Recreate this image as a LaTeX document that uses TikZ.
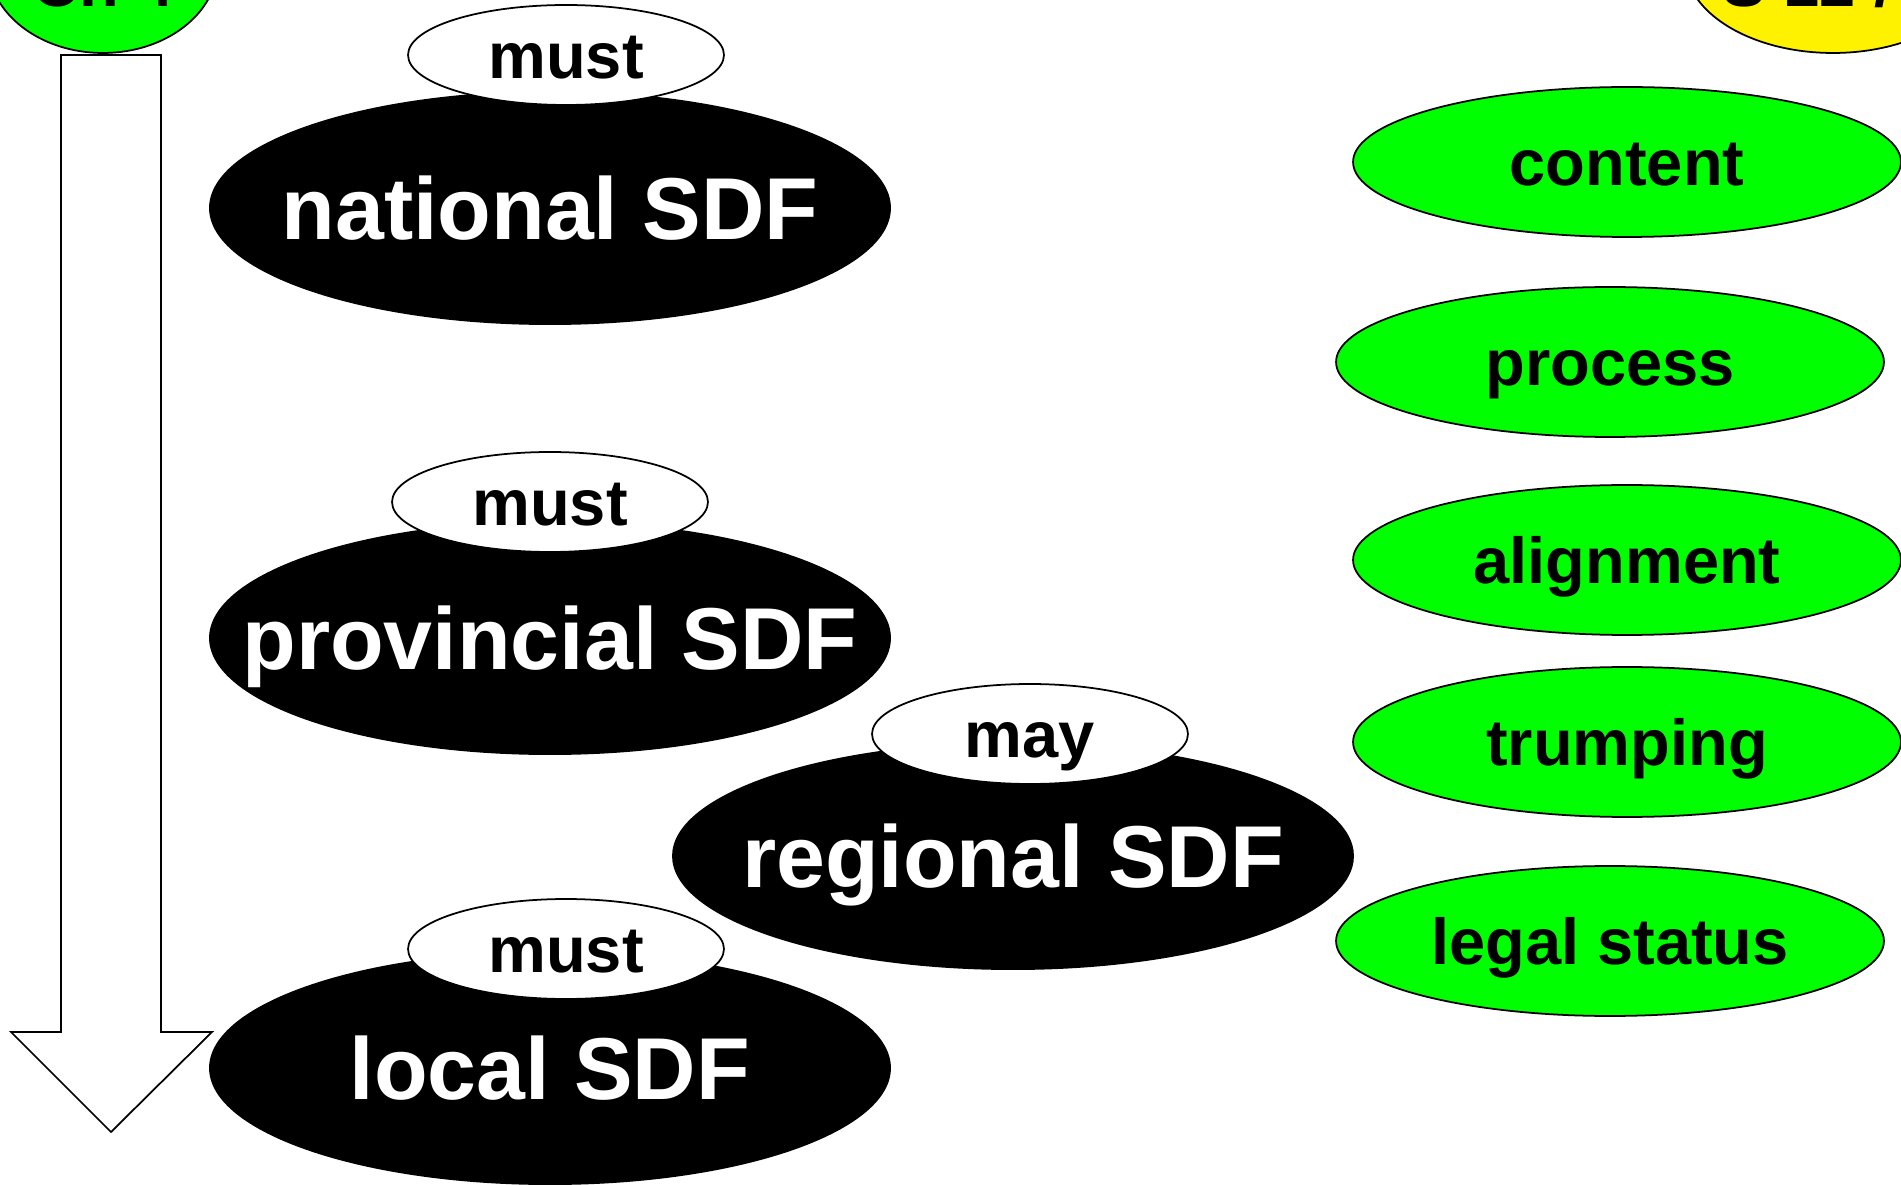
\documentclass[tikz,border=0pt]{standalone}
\usepackage{fontspec}
\setmainfont{Liberation Sans}
\usetikzlibrary{shapes.geometric}

\tikzset{
	sdf/.style={ellipse, fill=black, minimum width=13.64cm, minimum height=4.68cm, inner sep=0pt},
	sdftext/.style={text=white, text height=36pt, text depth=0pt, inner sep=0pt, font=\fontsize{50}{50}\selectfont\bfseries},
	duty/.style={ellipse, draw=black, line width=1pt, fill=white, minimum width=6.32cm, minimum height=2cm, inner sep=0pt,
		text height=26.6pt, text depth=0pt, font=\fontsize{37}{37}\selectfont\bfseries},
	topic/.style={ellipse, draw=black, line width=1pt, fill=green, minimum width=10.96cm, minimum height=3cm, inner sep=0pt,
		text height=26.6pt, text depth=0pt, font=\fontsize{37}{37}\selectfont\bfseries}
}

\begin{document}
\begin{tikzpicture}[x=0.02cm,y=-0.02cm]
				\useasboundingbox (0,0) rectangle (1901,1185);
				\clip (0,0) rectangle (1901,1185);
				
				%% cut off at the top
				\node[ellipse, draw, line width=1pt, fill=green, minimum width=4.6cm, minimum height=3.6cm] (chap) at (103,-37) {};
				\node[anchor=base, font=\fontsize{37}{37}\selectfont\bfseries] (chaptext) at (103,7) {Ch 4};
				\node[ellipse, draw, line width=1pt, fill=yellow, minimum width=5.92cm, minimum height=3.6cm] (sect) at (1833,-37) {};
				\node[anchor=base west, inner sep=0pt, font=\fontsize{37}{37}\selectfont\bfseries] (secttext) at (1722,7) {S 12 /};
				
				%% hierarchy arrow
				\draw[line width=1pt, fill=white] (61,55) -- (161,55) -- (161,1032) -- (212,1032) -- (111,1132) -- (11,1032) -- (61,1032) -- cycle;
				
				%% the frameworks
				\node[sdf, label={[sdftext]center:national SDF}] (national) at (550,208) {};
				\node[sdf, label={[sdftext]center:provincial SDF}] (provincial) at (550,638) {};
				\node[sdf, minimum height=4.56cm, label={[sdftext]center:regional SDF}] (regional) at (1013,856) {};
				\node[sdf, label={[sdftext]center:local SDF}] (local) at (550,1068) {};
				
				\node[duty] (mustnat) at (566,55) {must};
				\node[duty] (mustprov) at (550,502) {must};
				\node[duty] (mayreg) at (1030,734) {may};
				\node[duty] (mustloc) at (566,949) {must};
				
				%% provisions
				\node[topic] (content) at (1627,162) {content};
				\node[topic] (process) at (1610,362) {process};
				\node[topic] (alignment) at (1627,560) {alignment};
				\node[topic] (trumping) at (1627,742) {trumping};
				\node[topic] (legal) at (1610,941) {legal status};
\end{tikzpicture}
\end{document}
